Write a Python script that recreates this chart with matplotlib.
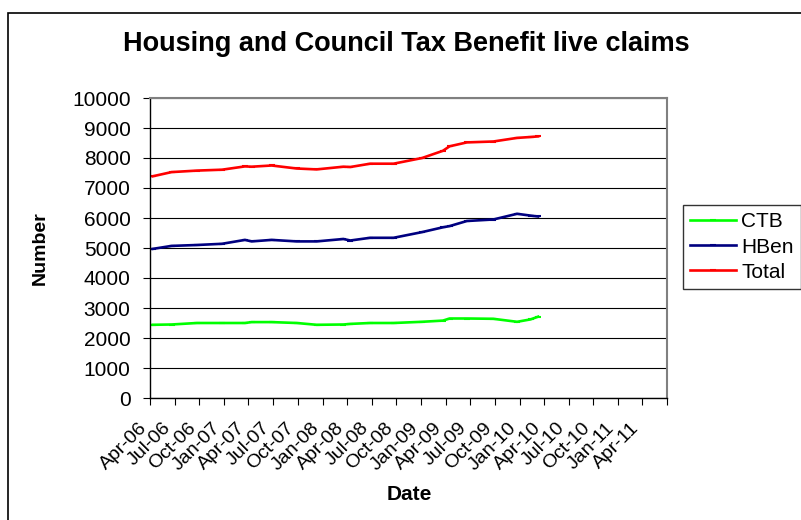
import matplotlib
matplotlib.use("Agg")
import matplotlib.pyplot as plt
import matplotlib.dates as mdates
import matplotlib.transforms as mtransforms
import pandas as pd
from matplotlib.patches import Rectangle

plt.rcParams["font.family"] = ["Liberation Sans", "DejaVu Sans"]

# Live claim counts by snapshot date
dates = [
    "2006-04-11", "2006-06-20", "2006-09-22", "2006-12-24", "2007-03-19",
    "2007-04-13", "2007-06-26", "2007-09-27", "2007-12-10", "2008-03-18",
    "2008-04-13", "2008-06-25", "2008-09-20", "2009-01-04", "2009-03-22",
    "2009-04-16", "2009-06-19", "2009-09-25", "2009-12-22", "2010-02-10",
    "2010-03-10",
]
ctb = [2440, 2450, 2500, 2500, 2500, 2530, 2530, 2500, 2440, 2450,
       2470, 2500, 2500, 2540, 2580, 2650, 2650, 2640, 2540, 2620, 2710]
hben = [4970, 5070, 5100, 5140, 5270, 5220, 5270, 5220, 5220, 5300,
        5250, 5340, 5340, 5530, 5690, 5730, 5900, 5950, 6140, 6080, 6050]
total = [7390, 7530, 7580, 7610, 7720, 7710, 7750, 7650, 7620, 7710,
         7700, 7810, 7810, 8000, 8240, 8390, 8520, 8550, 8670, 8700, 8720]

series_names = ["CTB", "HBen", "Total"]
series_colors = ["#00ff00", "#000080", "#ff0000"]

x = mdates.date2num(pd.to_datetime(dates))

fig = plt.figure(figsize=(8.01, 5.2), dpi=100)
ax = fig.add_axes([150 / 801, 1 - 398 / 520, 517 / 801, 300 / 520])

# chart frame (only top/left edges fall inside the image)
fig.patches.append(Rectangle((8 / 801, -0.1), 1.2, (520 - 13) / 520 + 0.1,
                             transform=fig.transFigure, fill=False,
                             edgecolor="black", linewidth=1.2))

for vals, name, col in zip([ctb, hben, total], series_names, series_colors):
    ax.plot(x, vals, color=col, linewidth=1.9, label=name,
            marker="_", markersize=5, markeredgewidth=1.5, markeredgecolor=col)

ax.set_ylim(0, 10000)
ax.set_yticks(range(0, 10001, 1000))
ax.grid(axis="y", color="black", linewidth=0.8)
ax.set_axisbelow(True)

start = pd.Timestamp("2006-04-01")
end = pd.Timestamp("2011-07-01")
ax.set_xlim(mdates.date2num(start), mdates.date2num(end))
tick_dates = pd.date_range(start, end, freq="QS-JAN")
tick_labels = [d.strftime("%b-%y") for d in tick_dates[:-1]] + [""]
ax.set_xticks(mdates.date2num(tick_dates))
ax.set_xticklabels(tick_labels, rotation=45, ha="right",
                   rotation_mode="anchor", fontsize=14)
ax.tick_params(axis="x", direction="out", length=5, width=0.8, pad=4)
ax.tick_params(axis="y", direction="out", length=5, width=0.8, pad=9,
               labelsize=15)

# push the slanted date labels down and left of their ticks
shift = mtransforms.ScaledTranslation(-12 / 100, -9 / 100, fig.dpi_scale_trans)
for lab in ax.get_xticklabels():
    lab.set_transform(lab.get_transform() + shift)

for side in ["left", "bottom"]:
    ax.spines[side].set_color("black")
    ax.spines[side].set_linewidth(1.0)
for side in ["top", "right"]:
    ax.spines[side].set_color("#808080")
    ax.spines[side].set_linewidth(1.5)

fig.text(406 / 801, 1 - 44 / 520, "Housing and Council Tax Benefit live claims",
         ha="center", va="center", fontsize=19.5, fontweight="bold")
fig.text(40 / 801, 1 - 248 / 520, "Number", rotation=90,
         ha="center", va="center", fontsize=14, fontweight="bold")
fig.text(409 / 801, 1 - 494 / 520, "Date",
         ha="center", va="center", fontsize=15, fontweight="bold")

leg = ax.legend(loc="upper left", bbox_to_anchor=(683 / 801, 1 - 205 / 520),
                bbox_transform=fig.transFigure, frameon=True, fancybox=False,
                fontsize=15, handlelength=2.2, handletextpad=0.25,
                borderpad=0.35, labelspacing=0.3, borderaxespad=0)
leg.get_frame().set_edgecolor("black")
leg.get_frame().set_linewidth(1.0)

fig.savefig("out.png", dpi=100)
